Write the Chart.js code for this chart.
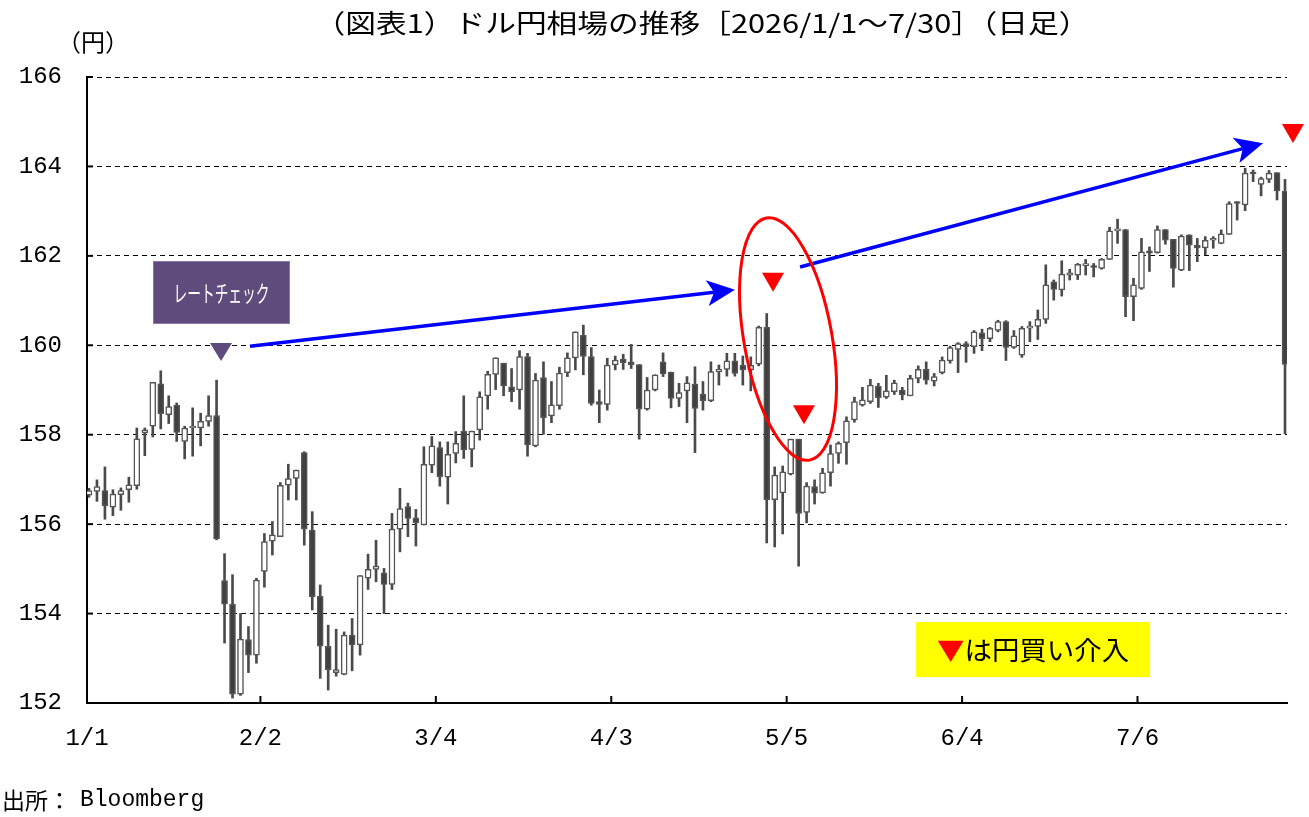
<!DOCTYPE html>
<html><head><meta charset="utf-8">
<script src="https://cdn.jsdelivr.net/npm/chart.js@4.4.1/dist/chart.umd.min.js"></script>
<style>html,body{margin:0;padding:0;background:#fff;}canvas{display:block;}</style>
</head><body>
<canvas id="c" width="1309" height="817"></canvas>
<script>
const categories = [
'1/1','1/2','1/5','1/6','1/7','1/8','1/9','1/12','1/13','1/14','1/15','1/16','1/19','1/20','1/21','1/22','1/23','1/26','1/27','1/28','1/29','1/30',
'2/2','2/3','2/4','2/5','2/6','2/9','2/10','2/11','2/12','2/13','2/16','2/17','2/18','2/19','2/20','2/23','2/24','2/25','2/26','2/27',
'3/2','3/3','3/4','3/5','3/6','3/9','3/10','3/11','3/12','3/13','3/16','3/17','3/18','3/19','3/20','3/23','3/24','3/25','3/26','3/27','3/30','3/31',
'4/1','4/2','4/3','4/6','4/7','4/8','4/9','4/10','4/13','4/14','4/15','4/16','4/17','4/20','4/21','4/22','4/23','4/24','4/27','4/28','4/29','4/30',
'5/1','5/4','5/5','5/6','5/7','5/8','5/11','5/12','5/13','5/14','5/15','5/18','5/19','5/20','5/21','5/22','5/25','5/26','5/27','5/28','5/29',
'6/1','6/2','6/3','6/4','6/5','6/8','6/9','6/10','6/11','6/12','6/15','6/16','6/17','6/18','6/19','6/22','6/23','6/24','6/25','6/26','6/29','6/30',
'7/1','7/2','7/3','7/6','7/7','7/8','7/9','7/10','7/13','7/14','7/15','7/16','7/17','7/20','7/21','7/22','7/23','7/24','7/27','7/28','7/29','7/30'];

const openV = [
156.65,156.73,156.75,156.38,156.66,156.77,156.86,158.04,158.19,159.14,158.45,158.66,157.85,158.15,158.15,158.30,158.43,154.74,154.21,152.20,153.42,153.07,
154.94,155.62,155.72,156.87,157.02,157.60,155.87,154.39,153.27,152.68,152.64,153.52,153.30,154.79,154.99,154.91,154.65,155.89,156.39,156.14,
155.98,157.32,157.71,157.05,157.58,158.08,157.67,158.11,158.87,159.35,159.60,159.07,159.00,159.75,157.75,159.28,158.42,158.65,159.39,159.72,
160.22,159.75,158.74,158.68,159.56,159.69,159.63,159.57,158.57,159.00,159.63,159.40,158.81,158.98,159.13,158.91,158.76,159.41,159.46,159.65,
159.56,159.45,159.58,160.40,156.55,156.70,157.12,157.90,156.26,156.84,156.70,157.15,157.58,157.82,158.33,158.66,158.74,159.09,158.84,158.96,
159.00,158.87,159.26,159.46,159.20,159.39,159.65,159.91,160.04,159.97,160.28,160.15,160.33,160.53,159.95,159.78,160.38,160.42,160.58,161.42,
161.24,161.57,161.57,161.78,161.78,161.72,161.92,162.56,162.59,161.09,161.27,162.11,162.07,162.59,162.37,161.68,162.47,162.24,162.18,162.35,
162.28,162.48,163.21,163.14,163.87,163.60,163.71,163.86,163.45];
const highV = [
156.80,156.99,157.28,156.77,156.81,157.05,158.15,158.15,159.17,159.43,158.87,158.71,158.19,158.60,158.48,158.87,159.22,155.34,154.87,154.00,153.71,154.79,
155.79,156.06,156.93,157.34,157.21,157.62,156.28,154.64,153.74,153.65,153.59,153.89,154.85,155.33,155.64,155.01,156.24,156.80,156.47,156.33,
157.73,157.96,157.84,157.84,158.07,158.87,158.08,158.96,159.42,159.72,159.60,159.48,159.88,159.82,159.37,159.63,159.19,159.51,159.83,160.30,
160.45,159.95,159.00,159.71,159.76,159.80,160.02,159.57,159.28,159.34,159.83,159.40,159.15,159.30,159.52,159.19,159.63,159.56,159.82,159.82,
159.76,159.74,160.43,160.71,157.28,157.30,157.90,157.90,156.93,156.99,157.25,157.77,157.84,158.40,158.84,159.06,159.24,159.15,159.33,159.22,
159.06,159.33,159.54,159.63,159.37,159.74,159.98,160.06,160.08,160.33,160.36,160.40,160.56,160.55,160.33,160.42,160.53,160.79,161.80,161.46,
161.89,161.70,161.83,161.92,161.83,161.94,162.64,162.82,162.59,161.50,162.39,162.20,162.67,162.59,162.37,162.47,162.47,162.39,162.43,162.43,
162.58,163.21,163.21,163.96,163.92,163.76,163.91,163.86,163.71];
const lowV = [
156.60,156.51,156.11,156.19,156.31,156.49,156.78,157.53,157.95,158.13,158.25,157.85,157.46,157.52,157.75,158.19,155.65,153.34,152.11,152.17,152.68,152.89,
154.59,155.31,155.72,156.54,156.54,155.53,154.08,152.55,152.29,152.60,152.63,152.72,153.07,154.54,154.71,154.00,154.54,155.38,155.72,155.51,
155.98,157.15,156.85,156.45,157.37,157.47,157.28,157.88,158.57,159.01,158.87,158.74,158.57,157.52,157.73,158.01,158.27,158.57,159.30,159.45,
159.34,158.66,158.27,158.55,159.45,159.46,159.48,157.90,158.55,158.98,159.30,158.60,158.63,158.27,157.60,158.55,158.74,159.11,159.31,159.31,
159.11,158.98,159.54,155.58,155.49,155.78,157.10,155.06,156.03,156.45,156.69,156.85,157.36,157.34,158.28,158.64,158.70,158.61,158.81,158.90,
158.78,158.87,159.16,159.13,159.09,159.36,159.60,159.39,159.62,159.82,159.88,160.08,160.30,159.66,159.93,159.73,160.08,160.13,160.49,161.01,
161.10,161.46,161.47,161.57,161.53,161.70,161.92,162.28,160.64,160.55,161.25,161.65,162.06,162.26,161.30,161.67,161.67,161.87,162.02,162.17,
162.27,162.48,162.80,163.01,163.66,163.34,163.64,163.25,158.02];
const closeV = [
156.75,156.84,156.41,156.67,156.75,156.88,157.91,158.11,159.17,158.47,158.63,158.05,158.15,158.19,158.30,158.43,155.67,154.21,152.20,153.43,153.07,154.75,
155.61,155.76,156.87,157.02,157.21,155.89,154.38,153.27,152.74,152.75,153.52,153.30,154.85,154.99,155.06,154.65,155.89,156.35,156.13,156.03,
157.34,157.75,157.06,157.56,157.81,157.66,158.08,158.85,159.35,159.72,159.09,158.96,159.75,157.77,159.22,158.38,158.67,159.38,159.72,160.30,
159.75,158.70,158.68,159.56,159.67,159.61,159.56,158.57,159.00,159.34,159.36,158.81,158.94,159.16,158.59,158.76,159.41,159.46,159.65,159.37,
159.45,159.55,160.40,156.55,157.10,157.17,157.90,156.24,156.85,156.69,157.15,157.58,157.81,158.31,158.74,158.78,159.11,158.83,158.98,159.16,
158.89,159.26,159.46,159.22,159.30,159.67,159.95,160.04,159.97,160.30,160.15,160.38,160.53,159.95,160.21,160.38,160.43,160.58,161.35,161.25,
161.59,161.62,161.81,161.80,161.74,161.92,162.56,162.58,161.09,161.35,162.09,162.06,162.59,162.35,161.72,162.44,162.24,162.18,162.35,162.39,
162.49,163.17,163.17,163.85,163.83,163.73,163.85,163.45,159.57];

const tickLabels = ['1/1','2/2','3/4','4/3','5/5','6/4','7/6'];
const yTickValues = [152,154,156,158,160,162,164,166];
const titleText = '（図表1）ドル円相場の推移［2026/1/1～7/30］（日足）';
const unitText = '（円）';
const sourceLabel = '出所：';
const sourceName = 'Bloomberg';
const rateCheckText = 'レートチェック';
const legendMark = '▼';
const legendText = 'は円買い介入';

const MONO = '"Liberation Mono", monospace';
const JP = '"Noto Sans CJK JP", sans-serif';

function fitText(ctx, text, cx, cy, font, targetW, color) {
  ctx.save();
  ctx.font = font;
  const w = ctx.measureText(text).width;
  const sx = targetW / w;
  ctx.translate(cx, cy);
  ctx.scale(sx, 1);
  ctx.textAlign = 'center';
  ctx.textBaseline = 'middle';
  ctx.fillStyle = color;
  ctx.fillText(text, 0, 0);
  ctx.restore();
}
function downTri(ctx, cx, top, w, h, color) {
  ctx.beginPath();
  ctx.moveTo(cx - w/2, top); ctx.lineTo(cx + w/2, top); ctx.lineTo(cx, top + h); ctx.closePath();
  ctx.fillStyle = color; ctx.fill();
}
function arrow(ctx, x1, y1, x2, y2, color) {
  const dx = x2 - x1, dy = y2 - y1, len = Math.hypot(dx, dy);
  const ux = dx/len, uy = dy/len, nx = -uy, ny = ux;
  const L = 28, W = 13, notch = 7;
  ctx.strokeStyle = color; ctx.lineWidth = 3.5; ctx.lineCap = 'butt';
  ctx.beginPath(); ctx.moveTo(x1, y1); ctx.lineTo(x2 - ux*(L-notch), y2 - uy*(L-notch)); ctx.stroke();
  ctx.beginPath();
  ctx.moveTo(x2, y2);
  ctx.lineTo(x2 - ux*L + nx*W, y2 - uy*L + ny*W);
  ctx.lineTo(x2 - ux*(L-notch), y2 - uy*(L-notch));
  ctx.lineTo(x2 - ux*L - nx*W, y2 - uy*L - ny*W);
  ctx.closePath(); ctx.fillStyle = color; ctx.fill();
}
// ticks sit on category boundaries (Excel "between tick marks" style)
const tickPos = l => Math.max(categories.indexOf(l) - 0.5, -0.25);

const overlay = {
  id: 'overlay',
  afterDraw(chart) {
    const ctx = chart.ctx, xs = chart.scales.x, ys = chart.scales.y, ca = chart.chartArea;
    const X = v => xs.getPixelForValue(v), Y = v => ys.getPixelForValue(v);
    ctx.save();
    // inner tick marks
    ctx.strokeStyle = '#000'; ctx.lineWidth = 2;
    tickLabels.forEach(l => {
      if (categories.indexOf(l) === 0) return;
      const px = X(tickPos(l));
      ctx.beginPath(); ctx.moveTo(px, ca.bottom); ctx.lineTo(px, ca.bottom - 7); ctx.stroke();
    });
    yTickValues.forEach(v => {
      const py = Y(v);
      ctx.beginPath(); ctx.moveTo(ca.left, py); ctx.lineTo(ca.left + 6, py); ctx.stroke();
    });
    // title and unit
    fitText(ctx, titleText, 702, 23, '26px ' + JP, 775, '#000');
    fitText(ctx, unitText, 93, 42, '24px ' + JP, 72, '#000');
    // source
    ctx.fillStyle = '#000'; ctx.textAlign = 'left'; ctx.textBaseline = 'alphabetic';
    ctx.font = '23px ' + JP; ctx.fillText(sourceLabel, 2, 809);
    ctx.font = '23px ' + MONO; ctx.fillText(sourceName, 80, 806);
    // rate check box
    const bx1 = X(8.03), bx2 = X(25.21), by1 = Y(161.885), by2 = Y(160.476);
    ctx.fillStyle = '#5f4b7c'; ctx.fillRect(bx1, by1, bx2 - bx1, by2 - by1);
    ctx.strokeStyle = '#8c7aa6'; ctx.lineWidth = 1; ctx.strokeRect(bx1 + 0.5, by1 + 0.5, bx2 - bx1 - 1, by2 - by1 - 1);
    fitText(ctx, rateCheckText, (bx1 + bx2)/2, (by1 + by2)/2 + 1, '23px ' + JP, 96, '#fff');
    downTri(ctx, X(16.56), Y(160.05), 22, 18, '#5f4b7c');
    // arrows
    arrow(ctx, X(20.19), Y(159.98), X(81.02), Y(161.24), '#0000ff');
    arrow(ctx, X(89.18), Y(161.75), X(147.25), Y(164.52), '#0000ff');
    // red intervention markers
    downTri(ctx, X(85.79), Y(161.62), 22, 19, '#ff0000');
    downTri(ctx, X(89.67), Y(158.66), 22, 19, '#ff0000');
    downTri(ctx, X(151.0), Y(164.95), 22, 19, '#ff0000');
    // ellipse
    ctx.beginPath();
    ctx.ellipse(X(87.67), Y(160.14), 44, 123, -10.1 * Math.PI / 180, 0, Math.PI * 2);
    ctx.strokeStyle = '#ff0000'; ctx.lineWidth = 3; ctx.stroke();
    // legend box
    const lx1 = X(103.73), lx2 = X(133.08), ly1 = Y(153.81), ly2 = Y(152.58);
    ctx.fillStyle = '#ffff00'; ctx.fillRect(lx1, ly1, lx2 - lx1, ly2 - ly1);
    ctx.font = '26px ' + JP;
    const wm = ctx.measureText(legendMark).width, wt = ctx.measureText(legendText).width;
    const total = wm + wt, sx = 192 / total;
    const cx = (lx1 + lx2)/2, cy = (ly1 + ly2)/2;
    ctx.save(); ctx.translate(cx - 96, cy + 1); ctx.scale(sx, 1);
    ctx.textAlign = 'left'; ctx.textBaseline = 'middle';
    ctx.fillStyle = '#ff0000'; ctx.fillText(legendMark, 0, 0);
    ctx.fillStyle = '#000'; ctx.fillText(legendText, wm, 0);
    ctx.restore();
    ctx.restore();
  }
};

const wickData = categories.map((c, i) => ({x: i, y: [lowV[i], highV[i]]}));
const bodyData = categories.map((c, i) => ({x: i, y: [openV[i], closeV[i]]}));

new Chart(document.getElementById('c'), {
  type: 'bar',
  data: {
    datasets: [
      {label: 'body', data: bodyData, grouped: false, order: 1, barThickness: 6, minBarLength: 2,
       backgroundColor: ctx => (closeV[ctx.dataIndex] >= openV[ctx.dataIndex] ? '#ffffff' : '#404040'),
       borderColor: '#565656', borderWidth: 1.5, borderSkipped: false},
      {label: 'wick', data: wickData, grouped: false, order: 2, barThickness: 2,
       backgroundColor: '#4a4a4a', borderWidth: 0}
    ]
  },
  options: {
    responsive: false, animation: false, devicePixelRatio: 1,
    layout: {padding: {top: 77, right: 22, bottom: 64, left: 0}},
    plugins: {legend: {display: false}, tooltip: {enabled: false}, title: {display: false}},
    scales: {
      x: {
        type: 'linear', min: -0.25, max: 150.25, offset: false,
        afterBuildTicks: s => { s.ticks = tickLabels.map(l => ({value: tickPos(l), label: l})); },
        afterFit: s => { s.height = 50; },
        ticks: {callback: (v, i) => tickLabels[i], autoSkip: false, maxRotation: 0, color: '#000',
                font: {family: '"Liberation Mono", monospace', size: 24}, padding: 21},
        grid: {drawOnChartArea: false, drawTicks: false, offset: false},
        border: {display: true, color: '#000', width: 2}
      },
      y: {
        min: 152, max: 166,
        afterBuildTicks: s => { s.ticks = yTickValues.map(v => ({value: v})); },
        afterFit: s => { s.width = 87; },
        ticks: {color: '#000', font: {family: '"Liberation Mono", monospace', size: 24}, padding: 25},
        grid: {color: '#000', lineWidth: 1, drawTicks: false},
        border: {display: true, color: '#000', width: 2, dash: [5, 4]}
      }
    }
  },
  plugins: [overlay]
});
</script>
</body></html>
